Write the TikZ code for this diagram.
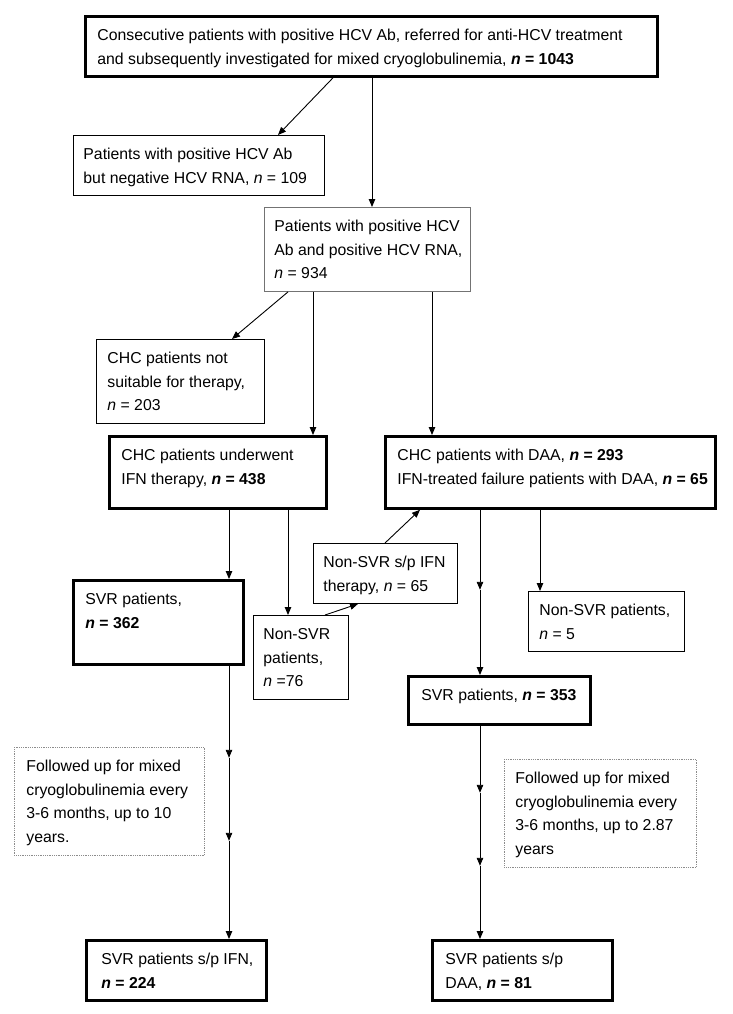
\documentclass[tikz,border=0pt]{standalone}
\usepackage{fontspec}
\setmainfont{Liberation Sans}
\usetikzlibrary{calc,arrows.meta}
\newcommand{\bxt}[4]{\parbox[c][#2pt][t]{#1pt}{\leftskip=#3pt\rightskip=0pt plus 1fil\parfillskip=0pt plus 1fil\relax\rule{0pt}{24pt}#4}}
\newcommand{\bn}[1]{\textbf{\textit{n} = #1}}
\newcommand{\nn}{\textit{n}}
\begin{document}
\begin{tikzpicture}[x=1pt,y=-1pt,
  every node/.style={font=\fontsize{15.8}{23.7}\selectfont, inner sep=0pt, anchor=north west},
  thinbox/.style={draw=black, line width=0.9pt},
  graybox/.style={draw=black!55, line width=0.9pt},
  thickbox/.style={draw=black, line width=2.8pt},
  dotbox/.style={draw=black!45, line width=0.8pt, densely dotted},
  arr/.style={draw=black, line width=0.9pt, -{Triangle[length=8pt,width=6.5pt]}},
  ln/.style={draw=black, line width=0.9pt}]
\useasboundingbox (0,0) rectangle (733,1014);

\node[thickbox] (top) at (84,15) {\bxt{572}{60}{12}{Consecutive patients with positive HCV Ab, referred for anti-HCV treatment\\and subsequently investigated for mixed cryoglobulinemia, \bn{1043}}};
\node[thinbox] (n109) at (73,135) {\bxt{251}{60}{10}{Patients with positive HCV Ab\\but negative HCV RNA, \nn{} = 109}};
\node[graybox] (n934) at (264,207) {\bxt{206}{84}{10}{Patients with positive HCV\\Ab and positive HCV RNA,\\\nn{} = 934}};
\node[thinbox] (n203) at (96,339) {\bxt{168}{84}{11}{CHC patients not\\suitable for therapy,\\\nn{} = 203}};
\node[thickbox] (n438) at (108,435) {\bxt{217}{72}{12}{CHC patients underwent\\IFN therapy, \bn{438}}};
\node[thickbox] (daa) at (384,435) {\bxt{330}{72}{12}{CHC patients with DAA, \bn{293}\\IFN-treated failure patients with DAA, \bn{65}}};
\node[thickbox] (svr362) at (72,579) {\bxt{170}{84}{12}{SVR patients,\\\bn{362}}};
\node[thinbox] (nsvr76) at (253,615) {\bxt{95}{84}{10}{Non-SVR\\patients,\\\nn{} =76}};
\node[thinbox] (sp) at (313,543) {\bxt{144}{60}{10}{Non-SVR s/p IFN\\therapy, \nn{} = 65}};
\node[thinbox] (nsvr5) at (528,591) {\bxt{156}{60}{11}{Non-SVR patients,\\\nn{} = 5}};
\node[thickbox] (svr353) at (407,675) {\bxt{182}{48}{13}{SVR patients, \bn{353}}};
\node[dotbox] (fl) at (14,747) {\bxt{190}{108}{12}{Followed up for mixed\\cryoglobulinemia every\\3-6 months, up to 10\\years.}};
\node[dotbox] (fr) at (504,759) {\bxt{192}{108}{11}{Followed up for mixed\\cryoglobulinemia every\\3-6 months, up to 2.87\\years}};
\node[thickbox] (ifn) at (85,939) {\bxt{180}{60}{15}{SVR patients s/p IFN,\\\bn{224}}};
\node[thickbox] (daa2) at (431,939) {\bxt{180}{60}{13}{SVR patients s/p\\DAA, \bn{81}}};

\coordinate (m1) at ($(daa.south west)+(96,80)$);
\coordinate (m2) at ($(svr362.south west)+(157,92)$);
\coordinate (m3) at ($(svr362.south west)+(157,175)$);
\coordinate (m4) at ($(svr353.south west)+(73,67)$);
\coordinate (m5) at ($(svr353.south west)+(73,140)$);

\draw[arr] ($(top.south west)+(249,0)$) -- ($(n109.north west)+(205,0)$);
\draw[arr] ($(top.south west)+(288,0)$) -- ($(n934.north west)+(108,0)$);
\draw[arr] ($(n934.south west)+(24,0)$) -- ($(n203.north west)+(136,0)$);
\draw[arr] ($(n934.south west)+(49,0)$) -- ($(n438.north west)+(205,0)$);
\draw[arr] ($(n934.south west)+(168,0)$) -- ($(daa.north west)+(48,0)$);
\draw[arr] ($(n438.south west)+(121,0)$) -- ($(svr362.north west)+(157,0)$);
\draw[arr] ($(n438.south west)+(180,0)$) -- ($(nsvr76.north west)+(35,0)$);
\draw[arr] ($(nsvr76.north west)+(72,0)$) -- ($(sp.south west)+(45,0)$);
\draw[arr] ($(sp.north west)+(72,0)$) -- ($(daa.south west)+(36,0)$);
\draw[arr] ($(daa.south west)+(96,0)$) -- (m1);
\draw[arr] (m1) -- ($(svr353.north west)+(73,0)$);
\draw[arr] ($(daa.south west)+(156,0)$) -- ($(nsvr5.north west)+(12,0)$);
\draw[arr] ($(svr362.south west)+(157,0)$) -- (m2);
\draw[arr] (m2) -- (m3);
\draw[arr] (m3) -- ($(ifn.north west)+(144,0)$);
\draw[arr] ($(svr353.south west)+(73,0)$) -- (m4);
\draw[arr] (m4) -- (m5);
\draw[arr] (m5) -- ($(daa2.north west)+(49,0)$);
\end{tikzpicture}
\end{document}
